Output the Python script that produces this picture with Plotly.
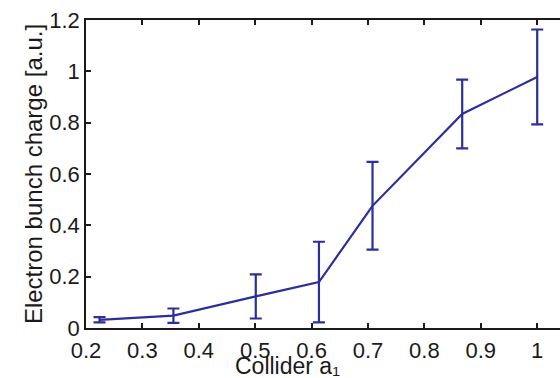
import plotly.graph_objects as go

collider_a1 = [0.224, 0.355, 0.501, 0.613, 0.708, 0.867, 1.0]
charge = [0.032, 0.048, 0.123, 0.179, 0.476, 0.834, 0.978]
charge_err = [0.010, 0.028, 0.086, 0.157, 0.171, 0.134, 0.185]

color = "#2b2f9a"
fig = go.Figure()
fig.add_trace(go.Scatter(
    x=collider_a1, y=charge, mode="lines",
    line=dict(color=color, width=2.2),
    error_y=dict(type="data", array=charge_err, visible=True,
                 color=color, thickness=2.2, width=6),
))

tickfont = dict(family="Liberation Sans, Arial, sans-serif", size=22, color="#1a1a1a")
titlefont = dict(family="Liberation Sans, Arial, sans-serif", size=23, color="#1a1a1a")
ytitlefont = dict(family="Liberation Sans, Arial, sans-serif", size=24, color="#1a1a1a")
fig.update_layout(
    width=560, height=378,
    margin=dict(l=86, r=0, t=20, b=50),
    plot_bgcolor="white", paper_bgcolor="white",
    showlegend=False, font=tickfont,
)
fig.add_annotation(
    text="Collider a\u2081", xref="paper", yref="paper",
    x=(287 - 86) / 474, y=-23 / 308, xanchor="center", yanchor="top",
    showarrow=False, font=titlefont,
)
fig.update_xaxes(
    range=[0.2, 1.0404], tickvals=[0.2, 0.3, 0.4, 0.5, 0.6, 0.7, 0.8, 0.9, 1.0],
    ticktext=["0.2", "0.3", "0.4", "0.5", "0.6", "0.7", "0.8", "0.9", "1"],
    ticks="inside", ticklen=5, tickwidth=1.5, tickcolor="#1a1a1a",
    showline=True, linecolor="#1a1a1a", linewidth=1.5, mirror="ticks",
    showgrid=False, zeroline=False, tickfont=tickfont, automargin=False,
    ticklabelstandoff=2,
)
fig.update_yaxes(
    range=[0, 1.2], tickvals=[0, 0.2, 0.4, 0.6, 0.8, 1.0, 1.2],
    ticktext=["0", "0.2", "0.4", "0.6", "0.8", "1", "1.2"],
    ticks="inside", ticklen=5, tickwidth=1.5, tickcolor="#1a1a1a",
    showline=True, linecolor="#1a1a1a", linewidth=1.5, mirror=False,
    showgrid=False, zeroline=False, tickfont=tickfont, automargin=False,
    title=dict(text="Electron bunch charge [a.u.]", standoff=0, font=ytitlefont),
)
fig.write_html("out.html")
